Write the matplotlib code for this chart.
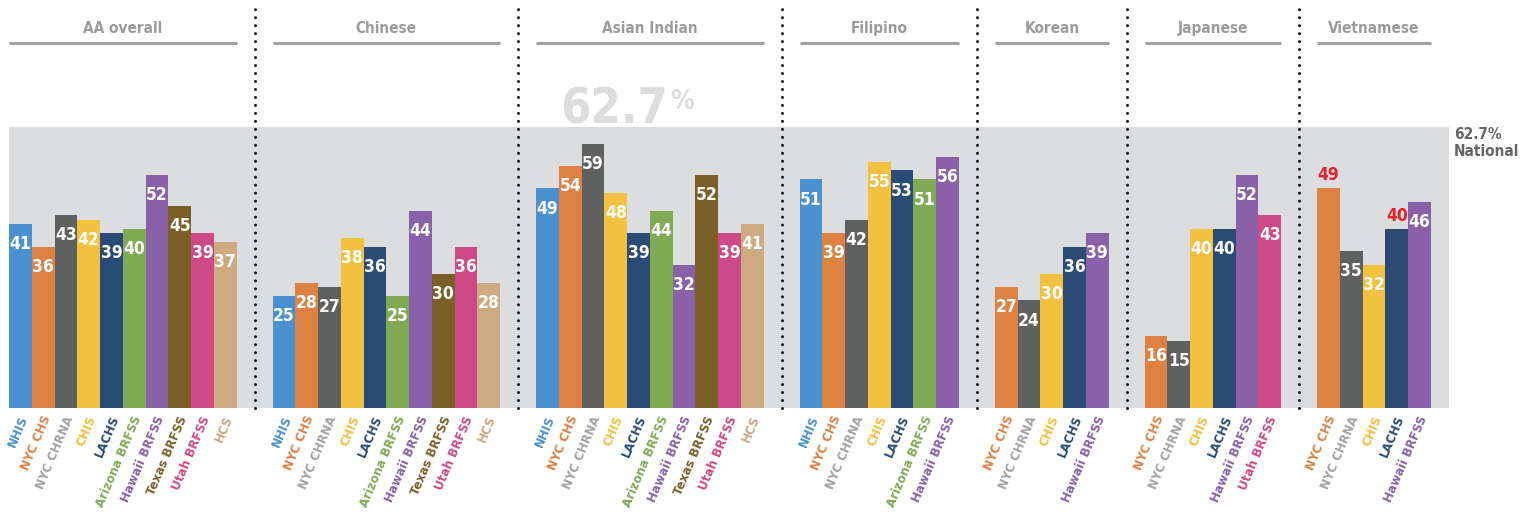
import matplotlib
matplotlib.use("Agg")
import matplotlib.pyplot as plt
import matplotlib.transforms as mtransforms
import numpy as np
from matplotlib import font_manager

# ---- data ----
groups = ["AA overall", "Chinese", "Asian Indian", "Filipino", "Korean", "Japanese", "Vietnamese"]

all_sources = ["NHIS", "NYC CHS", "NYC CHRNA", "CHIS", "LACHS", "Arizona BRFSS",
               "Hawaii BRFSS", "Texas BRFSS", "Utah BRFSS", "HCS"]
aa_sources = all_sources
aa_values = [41, 36, 43, 42, 39, 40, 52, 45, 39, 37]
chinese_sources = all_sources
chinese_values = [25, 28, 27, 38, 36, 25, 44, 30, 36, 28]
indian_sources = all_sources
indian_values = [49, 54, 59, 48, 39, 44, 32, 52, 39, 41]
filipino_sources = ["NHIS", "NYC CHS", "NYC CHRNA", "CHIS", "LACHS", "Arizona BRFSS", "Hawaii BRFSS"]
filipino_values = [51, 39, 42, 55, 53, 51, 56]
korean_sources = ["NYC CHS", "NYC CHRNA", "CHIS", "LACHS", "Hawaii BRFSS"]
korean_values = [27, 24, 30, 36, 39]
japanese_sources = ["NYC CHS", "NYC CHRNA", "CHIS", "LACHS", "Hawaii BRFSS", "Utah BRFSS"]
japanese_values = [16, 15, 40, 40, 52, 43]
vietnamese_sources = ["NYC CHS", "NYC CHRNA", "CHIS", "LACHS", "Hawaii BRFSS"]
vietnamese_values = [49, 35, 32, 40, 46]
# values shown in red above the bar
flagged = [("Vietnamese", "NYC CHS"), ("Vietnamese", "LACHS")]

national = 62.7

group_sources = [aa_sources, chinese_sources, indian_sources, filipino_sources,
                 korean_sources, japanese_sources, vietnamese_sources]
group_values = [aa_values, chinese_values, indian_values, filipino_values,
                korean_values, japanese_values, vietnamese_values]

bar_colors = {"NHIS": "#4a91d0", "NYC CHS": "#de8244", "NYC CHRNA": "#5f6060",
              "CHIS": "#f3c140", "LACHS": "#2a4b75", "Arizona BRFSS": "#80ab55",
              "Hawaii BRFSS": "#8a60a8", "Texas BRFSS": "#7a6027",
              "Utah BRFSS": "#cd4a87", "HCS": "#cdaa80"}
label_colors = dict(bar_colors)
label_colors["NYC CHRNA"] = "#a3a3a3"

# ---- fonts ----
names = {f.name for f in font_manager.fontManager.ttflist}
if "Liberation Sans Narrow" in names:
    plt.rcParams["font.family"] = ["Liberation Sans Narrow", "DejaVu Sans"]
else:
    plt.rcParams["font.family"] = ["DejaVu Sans"]
    plt.rcParams["font.stretch"] = "condensed"

W, H = 1522, 514
fig = plt.figure(figsize=(W / 100, H / 100), dpi=100)
ax = fig.add_axes([9 / W, 106 / H, 1440 / W, 281 / H])
ax.set_facecolor("#dcdddf")
for s in ax.spines.values():
    s.set_visible(False)
ax.set_xticks([])
ax.set_yticks([])

GAP = 1.58
pos = 0.0
spans = []
for gname, srcs, vals in zip(groups, group_sources, group_values):
    xs = pos + np.arange(len(srcs))
    ax.bar(xs, vals, width=1.0, color=[bar_colors[s] for s in srcs], linewidth=0)
    for x, s, v in zip(xs, srcs, vals):
        if (gname, s) in flagged:
            ax.annotate(str(v), (x, v), xytext=(0, 3), textcoords="offset points",
                        ha="center", va="bottom", color="#e8222a",
                        fontsize=12.5, fontweight="bold")
        else:
            ax.annotate(str(v), (x, v), xytext=(0, -8), textcoords="offset points",
                        ha="center", va="top", color="white",
                        fontsize=12.5, fontweight="bold")
        ax.annotate(s, (x, 0), xytext=(3, -6), textcoords="offset points",
                    xycoords=("data", "axes fraction"),
                    ha="right", va="center", rotation=67, rotation_mode="anchor",
                    color=label_colors[s], fontsize=9.5, fontweight="bold",
                    annotation_clip=False)
    spans.append((xs[0] - 0.5, xs[-1] + 0.5))
    pos = xs[-1] + 1 + GAP

ax.set_xlim(-0.5, spans[-1][1] + 18 / 22.75)
ax.set_ylim(0, national)

trans = mtransforms.blended_transform_factory(ax.transData, ax.transAxes)

# group headers with underline
for gname, (x0, x1) in zip(groups, spans):
    ax.text((x0 + x1) / 2, 1.352, gname, transform=trans, ha="center", va="center",
            color="#9b9b9b", fontsize=11, fontweight="bold")
    ax.plot([x0, x1], [1.299, 1.299], transform=trans, color="#a3a3a3",
            linewidth=2.2, solid_capstyle="butt", clip_on=False)

# dotted separators
for (a0, a1), (b0, b1) in zip(spans[:-1], spans[1:]):
    sx = (a1 + b0) / 2
    ax.plot([sx, sx], [0.0, 1.43], transform=trans, color="#1a1a1a",
            linestyle=(0, (0.01, 2.6)), linewidth=2.2, dash_capstyle="round",
            clip_on=False)

# big national value watermark
wx = spans[2][0] + (668 - 536) / 22.75
ax.text(wx, 1.011, "62.7", transform=trans, ha="right", va="baseline",
        color="#dcdddf", fontsize=35, fontweight="bold")
ax.text(wx + 0.1, 1.011 + 35 / 281, "%", transform=trans, ha="left", va="top",
        color="#dcdddf", fontsize=19, fontweight="bold")

# right-side note
ax.text(1.0035, 1.0, f"{national}%\nNational", transform=ax.transAxes,
        ha="left", va="top", color="#666666", fontsize=11, fontweight="bold",
        linespacing=1.2)

fig.savefig("out.png", dpi=100)
